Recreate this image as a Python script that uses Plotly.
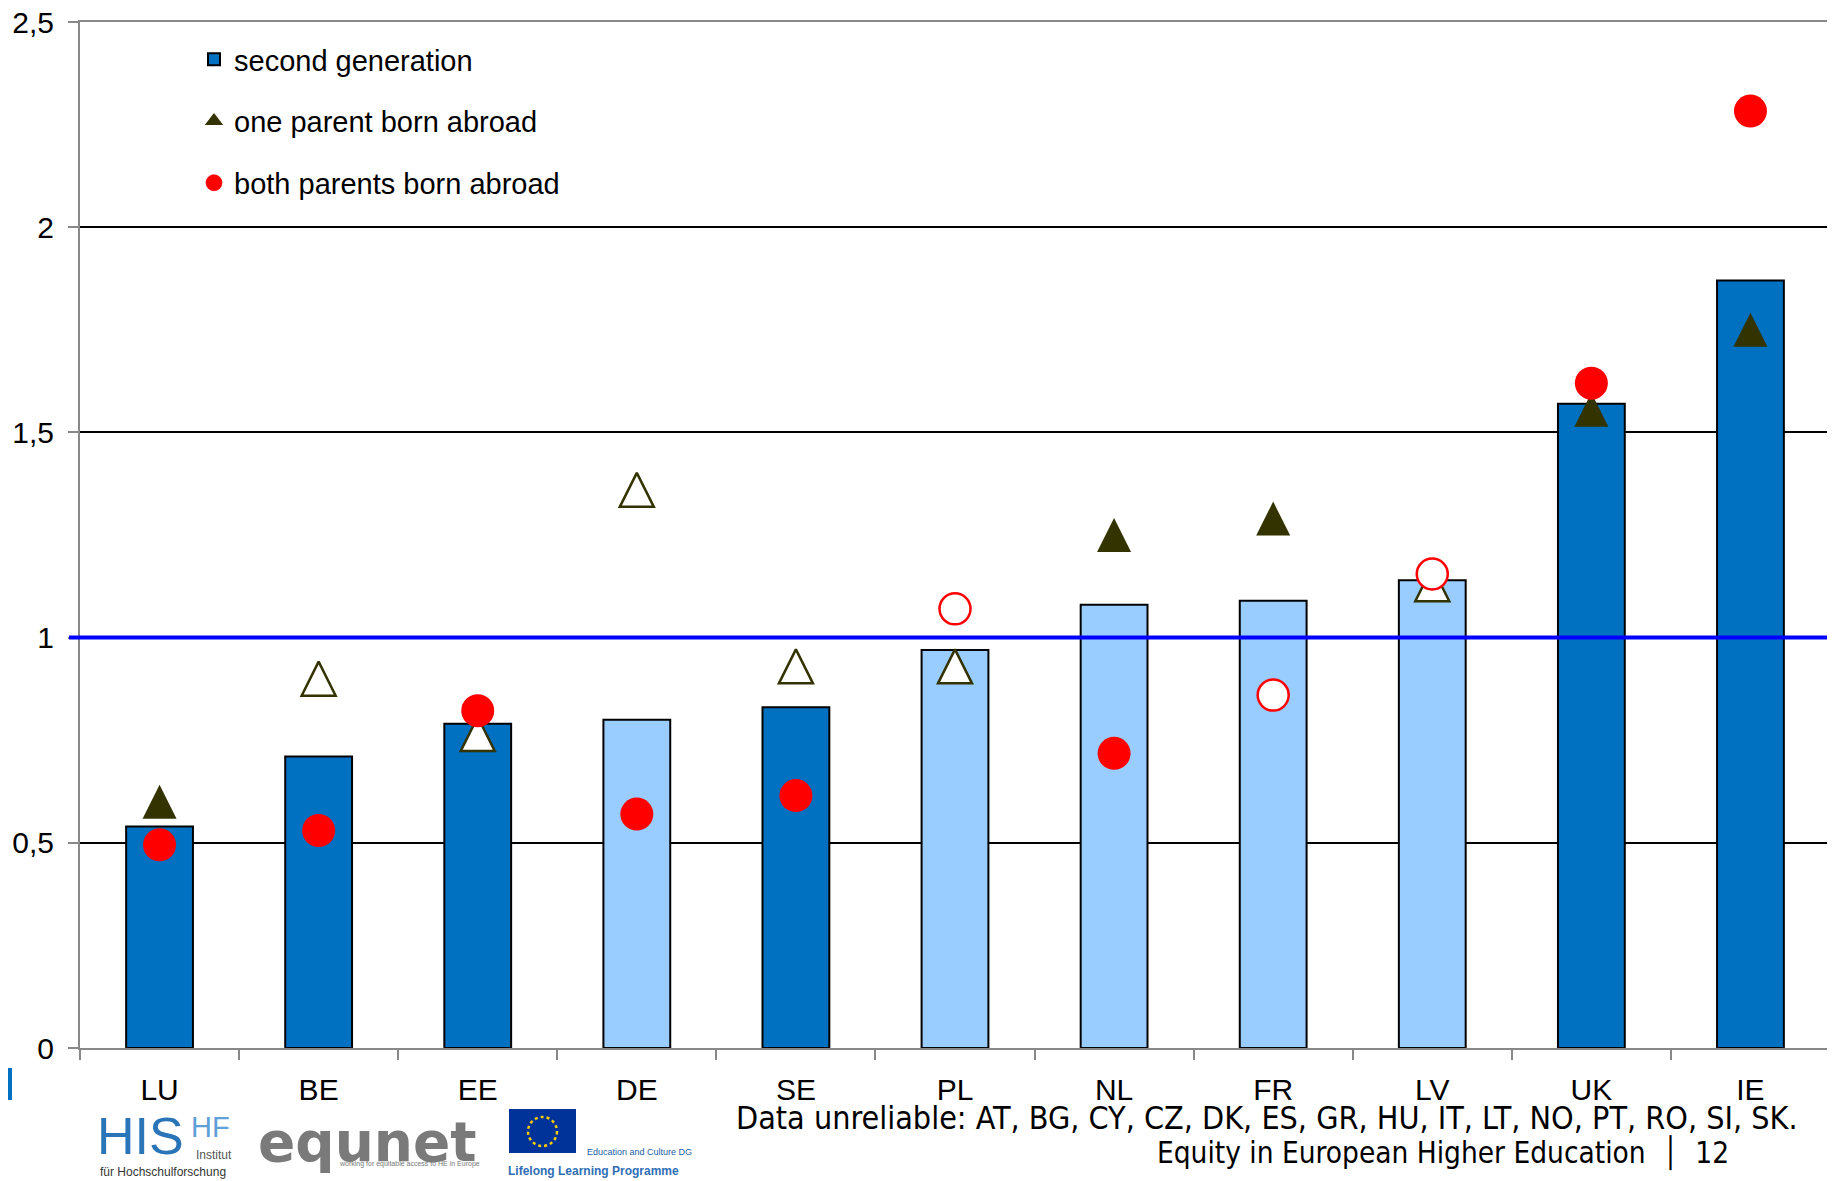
import plotly.graph_objects as go

# ---------------- data ----------------
categories = ["LU", "BE", "EE", "DE", "SE", "PL", "NL", "FR", "LV", "UK", "IE"]
second_generation = [0.54, 0.71, 0.79, 0.80, 0.83, 0.97, 1.08, 1.09, 1.14, 1.57, 1.87]
one_parent_abroad = [0.60, 0.90, 0.765, 1.36, 0.93, 0.93, 1.25, 1.29, 1.13, 1.555, 1.75]
both_parents_abroad = [0.495, 0.53, 0.822, 0.57, 0.615, 1.07, 0.718, 0.86, 1.155, 1.62, 2.283]
# reliability flags (solid = reliable, light / hollow = less reliable)
second_reliable = [True, True, True, False, True, False, False, False, False, True, True]
one_parent_reliable = [True, False, False, False, False, False, True, True, False, True, True]
both_parents_reliable = [True, True, True, True, True, False, True, False, False, True, True]
y_tick_vals = [0, 0.5, 1, 1.5, 2, 2.5]
y_tick_text = ["0", "0,5", "1", "1,5", "2", "2,5"]
reference_level = 1.0
unreliable_note = "Data unreliable: AT, BG, CY, CZ, DK, ES, GR, HU, IT, LT, NO, PT, RO, SI, SK."
footer_text = "Equity in European Higher Education  \u2502  12"

# ---------------- style ----------------
OFF = 8                      # page body margin of the html page
W, H = 1835 - OFF, 1181 - OFF
PL, PR, PT, PB = 80, 1830, 22, 1048      # plot area in page pixels
ARIAL = "Liberation Sans, Arial, sans-serif"
NARROW = "Liberation Sans Narrow, Arial Narrow, Liberation Sans, Arial, sans-serif"
COND = "DejaVu Sans Condensed, DejaVu Sans, Verdana, sans-serif"
DARK_BLUE, LIGHT_BLUE = "#0070C0", "#99CCFF"
OLIVE, RED = "#333300", "#FF0000"

def xp(px):
    return (px - PL) / (PR - PL)

def yp(py):
    return (PB - py) / (PB - PT)

px_per_unit = (PB - PT) / 2.5
TRI_SIZE = 34
tri_shift = (TRI_SIZE / 2) / px_per_unit

fig = go.Figure()

fig.add_trace(go.Bar(
    x=categories, y=second_generation, name="second generation",
    marker=dict(color=[DARK_BLUE if r else LIGHT_BLUE for r in second_reliable],
                line=dict(color="black", width=2)),
    legendgroup="g1", legendrank=1, hoverinfo="x+y",
))

# triangles (arrow-up symbol, on a shifted axis so each triangle is centred on its value)
fig.add_trace(go.Scatter(
    x=categories, y=one_parent_abroad, mode="markers", yaxis="y2",
    marker=dict(symbol="arrow-up", size=TRI_SIZE, opacity=1,
                color=[OLIVE if r else "white" for r in one_parent_reliable],
                line=dict(color=OLIVE, width=[0 if r else 2.5 for r in one_parent_reliable])),
    showlegend=False, name="one parent born abroad",
))

fig.add_trace(go.Scatter(
    x=categories, y=both_parents_abroad, mode="markers", yaxis="y3",
    name="both parents born abroad",
    marker=dict(symbol="circle", size=[33 if r else 31 for r in both_parents_reliable], opacity=1,
                color=[RED if r else "white" for r in both_parents_reliable],
                line=dict(color=RED, width=[0 if r else 2.5 for r in both_parents_reliable])),
    legendgroup="g3", legendrank=3,
))

# legend entry for triangles
fig.add_trace(go.Scatter(
    x=[None], y=[None], mode="markers", name="one parent born abroad",
    marker=dict(symbol="triangle-up", size=18, color=OLIVE, opacity=1),
    legendgroup="g2", legendrank=2,
))

shapes = [
    dict(type="line", xref="paper", yref="y", x0=xp(69), x1=1.0, y0=reference_level, y1=reference_level,
         line=dict(color="#0000FF", width=4), layer="above"),
    dict(type="rect", xref="paper", yref="paper", x0=xp(0), x1=xp(12), y0=yp(1068), y1=yp(1100),
         fillcolor="#0070C0", line=dict(width=0)),
    # EU flag
    dict(type="rect", xref="paper", yref="paper", x0=xp(509), x1=xp(576), y0=yp(1109), y1=yp(1153),
         fillcolor="#003399", line=dict(width=0)),
    dict(type="circle", xref="paper", yref="paper", x0=xp(528), x1=xp(557), y0=yp(1117), y1=yp(1146),
         line=dict(color="#FFCC00", width=2.5, dash="dot")),
]

annotations = [
    dict(text=unreliable_note, x=xp(1800), y=yp(1118), xanchor="right", yanchor="middle",
         font=dict(family=COND, size=32, color="black")),
    dict(text=footer_text, x=xp(1731), y=yp(1153), xanchor="right", yanchor="middle",
         font=dict(family=COND, size=29.5, color="black")),
    # logos (text approximations)
    dict(text="HIS", x=xp(95), y=yp(1136), xanchor="left", yanchor="middle",
         font=dict(family=NARROW, size=52, color="#2A74B8")),
    dict(text="HF", x=xp(189), y=yp(1127), xanchor="left", yanchor="middle",
         font=dict(family=NARROW, size=29, color="#5FA0D8")),
    dict(text="Institut", x=xp(234), y=yp(1155), xanchor="right", yanchor="middle",
         font=dict(family=NARROW, size=12, color="#555555")),
    dict(text="für Hochschulforschung", x=xp(98), y=yp(1172), xanchor="left", yanchor="middle",
         font=dict(family=NARROW, size=12, color="#333333")),
    dict(text="<b>equnet</b>", x=xp(256), y=yp(1142), xanchor="left", yanchor="middle",
         font=dict(family="DejaVu Sans, sans-serif", size=55, color="#7A7A7A")),
    dict(text="working for equitable access to HE in Europe", x=xp(482), y=yp(1164), xanchor="right",
         yanchor="middle", font=dict(family=NARROW, size=7, color="#777777")),
    dict(text="Education and Culture DG", x=xp(585), y=yp(1152), xanchor="left", yanchor="middle",
         font=dict(family=NARROW, size=9, color="#2060A8")),
    dict(text="<b>Lifelong Learning Programme</b>", x=xp(506), y=yp(1171), xanchor="left", yanchor="middle",
         font=dict(family=NARROW, size=12, color="#2F6EB5")),
]

fig.update_layout(
    width=W, height=H,
    margin=dict(l=PL - OFF, r=W - (PR - OFF), t=PT - OFF, b=H - (PB - OFF), pad=0, autoexpand=False),
    paper_bgcolor="white", plot_bgcolor="white",
    font=dict(family=ARIAL, color="black"),
    bargap=0.58,
    showlegend=True,
    legend=dict(x=xp(194), y=yp(34), xanchor="left", yanchor="top",
                font=dict(family=ARIAL, size=29, color="black"),
                bgcolor="rgba(0,0,0,0)", traceorder="grouped", tracegroupgap=21),
    xaxis=dict(type="category", categoryorder="array", categoryarray=categories,
               range=[-0.5, len(categories) - 0.5], automargin=False,
               tickson="boundaries", ticks="outside", ticklen=10, tickwidth=2, tickcolor="#888888",
               showline=True, linecolor="#888888", linewidth=2, mirror=True, showgrid=False,
               tickfont=dict(family=ARIAL, size=30, color="black"), ticklabelstandoff=14),
    yaxis=dict(range=[0, 2.5], tickvals=y_tick_vals, ticktext=y_tick_text, automargin=False,
               ticks="outside", ticklen=10, tickwidth=2, tickcolor="#888888",
               showline=True, linecolor="#888888", linewidth=2, mirror=True,
               showgrid=True, gridcolor="black", gridwidth=2, zeroline=False,
               tickfont=dict(family=ARIAL, size=30, color="black"), ticklabelstandoff=8,
               ticklabeloverflow="allow"),
    yaxis2=dict(overlaying="y", range=[-tri_shift, 2.5 - tri_shift], visible=False),
    yaxis3=dict(overlaying="y", range=[0, 2.5], visible=False),
    shapes=shapes,
    annotations=[dict(a, xref="paper", yref="paper", showarrow=False) for a in annotations],
)

fig.write_html("out.html")
